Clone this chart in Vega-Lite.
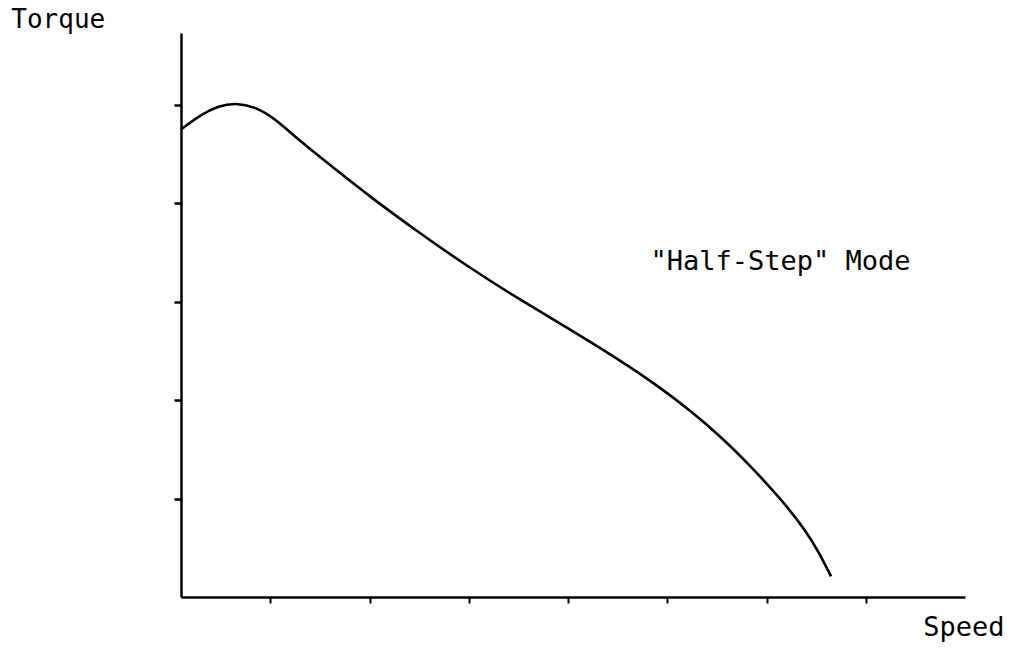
{
  "$schema": "https://vega.github.io/schema/vega-lite/v6.json",
  "autosize": {"type": "none"},
  "padding": {"left": 181, "top": 33, "right": 51, "bottom": 53},
  "width": 784,
  "height": 564,
  "background": "white",
  "config": {"view": {"stroke": null}},
  "datasets": {
    "curve": [
      {"speed": 0.10, "torque": 4.75},
      {"speed": 0.30, "torque": 4.90},
      {"speed": 0.48, "torque": 4.99},
      {"speed": 0.65, "torque": 5.02},
      {"speed": 0.85, "torque": 4.98},
      {"speed": 1.05, "torque": 4.86},
      {"speed": 1.30, "torque": 4.63},
      {"speed": 1.65, "torque": 4.35},
      {"speed": 2.00, "torque": 4.07},
      {"speed": 2.50, "torque": 3.70},
      {"speed": 3.00, "torque": 3.35},
      {"speed": 3.50, "torque": 3.03},
      {"speed": 4.00, "torque": 2.73},
      {"speed": 4.50, "torque": 2.42},
      {"speed": 4.90, "torque": 2.15},
      {"speed": 5.25, "torque": 1.88},
      {"speed": 5.55, "torque": 1.62},
      {"speed": 5.85, "torque": 1.32},
      {"speed": 6.15, "torque": 0.99},
      {"speed": 6.40, "torque": 0.67},
      {"speed": 6.53, "torque": 0.45},
      {"speed": 6.65, "torque": 0.21}
    ],
    "labels": [
      {"speed": -1.61, "torque": 5.78, "label": "Torque", "group": "a"},
      {"speed": 4.83, "torque": 3.325, "label": "\"Half-Step\" Mode", "group": "b"},
      {"speed": 7.58, "torque": -0.40, "label": "Speed", "group": "b"}
    ]
  },
  "layer": [
    {
      "data": {"name": "curve"},
      "mark": {"type": "line", "color": "black", "strokeWidth": 2.6, "interpolate": "basis", "clip": false},
      "encoding": {
        "x": {
          "field": "speed", "type": "quantitative",
          "scale": {"domain": [0.1, 8], "nice": false, "zero": false},
          "axis": {
            "values": [1, 2, 3, 4, 5, 6, 7], "labels": false, "title": null, "grid": false,
            "domainColor": "black", "domainWidth": 2.5, "tickColor": "black", "tickWidth": 2, "tickSize": 6
          }
        },
        "y": {
          "field": "torque", "type": "quantitative",
          "scale": {"domain": [0, 5.73], "nice": false, "zero": false},
          "axis": {
            "values": [1, 2, 3, 4, 5], "labels": false, "title": null, "grid": false,
            "domainColor": "black", "domainWidth": 2.5, "tickColor": "black", "tickWidth": 2.5, "tickSize": 7
          }
        }
      }
    },
    {
      "data": {"name": "labels"},
      "transform": [{"filter": "datum.group == 'a'"}],
      "mark": {"type": "text", "font": "DejaVu Sans Mono", "fontSize": 26, "color": "black", "align": "left", "baseline": "alphabetic", "clip": false},
      "encoding": {
        "x": {"field": "speed", "type": "quantitative"},
        "y": {"field": "torque", "type": "quantitative"},
        "text": {"field": "label"}
      }
    },
    {
      "data": {"name": "labels"},
      "transform": [{"filter": "datum.group == 'b'"}],
      "mark": {"type": "text", "font": "DejaVu Sans Mono", "fontSize": 27, "color": "black", "align": "left", "baseline": "alphabetic", "clip": false},
      "encoding": {
        "x": {"field": "speed", "type": "quantitative"},
        "y": {"field": "torque", "type": "quantitative"},
        "text": {"field": "label"}
      }
    }
  ]
}
